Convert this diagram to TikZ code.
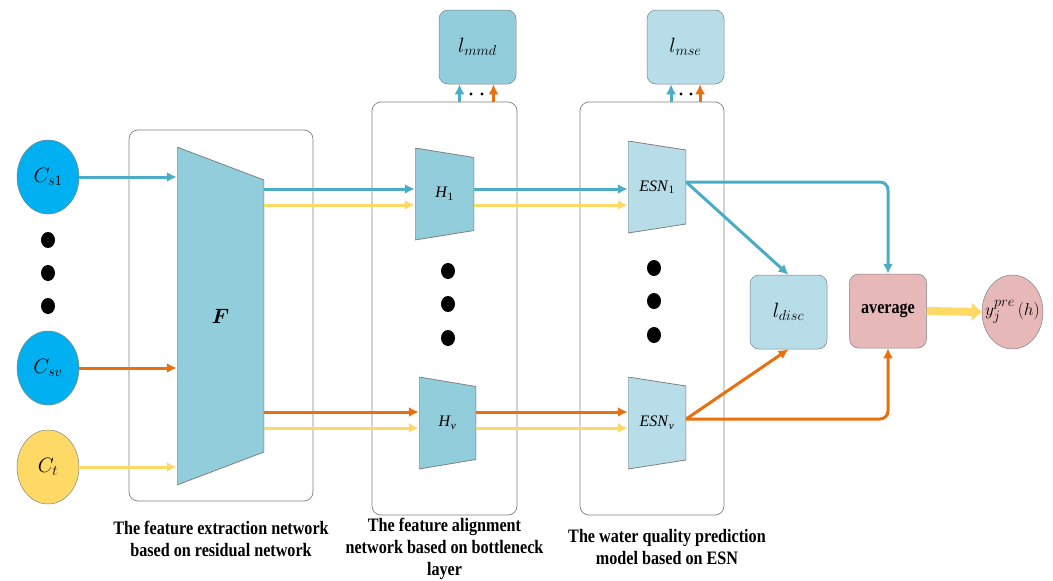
\documentclass[tikz,border=0pt]{standalone}
\usepackage{fontspec}
\usepackage{bm}
\setmainfont{Liberation Serif}
\newfontfamily\capfont[FakeStretch=0.85]{Liberation Serif}
\usetikzlibrary{positioning,arrows.meta,shapes.geometric}

\definecolor{wqcyan}{HTML}{00B0F0}
\definecolor{wqblue}{HTML}{4BACC6}
\definecolor{wqorange}{HTML}{E8700F}
\definecolor{wqyellow}{HTML}{FFD966}
\definecolor{wqteal}{HTML}{92CDDC}
\definecolor{wqpale}{HTML}{B7DDE8}
\definecolor{wqrose}{HTML}{E6B9B8}
\definecolor{wqedge}{HTML}{808080}

\tikzset{
	wq_base/.style={font=\fontsize{20}{24}\selectfont, inner sep=0pt},
	wq_input/.style={wq_base, draw=wqedge, line width=0.5pt, ellipse, minimum width=62, minimum height=74, fill=#1},
	wq_frame/.style={draw=wqedge, line width=0.7pt, rounded corners=9pt},
	wq_loss/.style={wq_base, draw=wqedge, line width=0.5pt, rounded corners=9pt, minimum width=77, minimum height=74, fill=#1},
	wq_trap/.style 2 args={wq_base, font=\fontsize{16}{19}\selectfont, draw=none,
		path picture={\filldraw[draw=wqedge, line width=0.8pt, fill=#2]
			(path picture bounding box.north west) -- ([yshift=-#1]path picture bounding box.north east)
			-- ([yshift=#1]path picture bounding box.south east) -- (path picture bounding box.south west) -- cycle;}},
	wq_caption/.style={font=\capfont\bfseries\fontsize{19}{22}\selectfont, align=center, inner sep=0pt},
	wq_line/.style={line width=3pt, draw=#1, -{Latex[length=10pt,width=10pt]}},
	wq_dot/.style={fill=black}
}

\begin{document}
\begin{tikzpicture}[x=1pt, y=-1pt]
	\useasboundingbox (0,0) rectangle (1053,581);

	% the three stages
	\node [wq_frame, minimum width=184, minimum height=371] (extract) at (221,315.5) {};
	\node [wq_frame, minimum width=145, minimum height=413] (align) at (444.5,308.5) {};
	\node [wq_frame, minimum width=144, minimum height=413] (predict) at (652,308.5) {};

	% inputs
	\node [wq_input=wqcyan] (cs1) at (48,177) {$C_{s1}$};
	\node [wq_input=wqcyan] (csv) at (48,368) {$C_{sv}$};
	\node [wq_input=wqyellow] (ct) at (48,467) {$C_{t}$};
	\foreach \y in {240,273,306}
		\fill [wq_dot] (48,\y) ellipse (7 and 8);

	% networks
	\node [wq_trap={33}{wqteal}, minimum width=87, minimum height=338, font=\fontsize{20}{24}\selectfont] (F) at (220.5,316) {$\bm{F}$};
	\node [wq_trap={9.5}{wqteal}, minimum width=59, minimum height=92] (H1) at (444.5,194) {\textit{H}\textsubscript{1}};
	\node [wq_trap={9.5}{wqteal}, minimum width=57, minimum height=92] (Hv) at (447.5,423) {\textit{H}\textsubscript{\textit{v}}};
	\node [wq_trap={9}{wqpale}, minimum width=58, minimum height=92] (ESN1) at (657,187) {\textit{ESN}\textsubscript{1}};
	\node [wq_trap={9}{wqpale}, minimum width=58, minimum height=92] (ESNv) at (657,423) {\textit{ESN}\textsubscript{\textit{v}}};
	\foreach \y in {271,304,338}
		\fill [wq_dot] (448,\y) ellipse (7 and 8);
	\foreach \y in {268,301,335}
		\fill [wq_dot] (654,\y) ellipse (7 and 8);

	% losses and output
	\node [wq_loss=wqteal] (mmd) at (477.5,47) {$l_{mmd}$};
	\node [wq_loss=wqpale] (mse) at (685.5,47) {$l_{mse}$};
	\node [wq_loss=wqpale] (disc) at (788.5,312) {$l_{disc}$};
	\node [wq_loss=wqrose, font=\capfont\bfseries\fontsize{19}{22}\selectfont] (avg) at (888,311) {average};
	\node [wq_input=wqrose, minimum width=61,
		label={[font=\fontsize{19}{22}\selectfont, inner sep=0pt]center:$y_j^{pre}\,(h)$}] (ypre) at (1012.5,312) {};

	% rows of the feature streams
	\coordinate (rowS) at (0,189);
	\coordinate (rowT) at (0,205);
	\coordinate (rowV) at (0,412);
	\coordinate (rowU) at (0,428);

	\draw [wq_line=wqblue] (cs1) -- (cs1 -| F.west);
	\draw [wq_line=wqorange] (csv) -- (csv -| F.west);
	\draw [wq_line=wqyellow] (ct) -- (ct -| F.west);

	\draw [wq_line=wqblue] (F.east |- rowS) -- (H1.west |- rowS);
	\draw [wq_line=wqyellow] (F.east |- rowT) -- (H1.west |- rowT);
	\draw [wq_line=wqorange] (F.east |- rowV) -- (Hv.west |- rowV);
	\draw [wq_line=wqyellow] (F.east |- rowU) -- (Hv.west |- rowU);

	\draw [wq_line=wqblue] (H1.east |- rowS) -- (ESN1.west |- rowS);
	\draw [wq_line=wqyellow] (H1.east |- rowT) -- (ESN1.west |- rowT);
	\draw [wq_line=wqorange] (Hv.east |- rowV) -- (ESNv.west |- rowV);
	\draw [wq_line=wqyellow] (Hv.east |- rowU) -- (ESNv.west |- rowU);

	% up to the losses
	\draw [wq_line=wqblue] ([xshift=-18]mmd.south |- align.north) -- ([xshift=-18]mmd.south);
	\draw [wq_line=wqorange] ([xshift=16]mmd.south |- align.north) -- ([xshift=16]mmd.south);
	\fill [wq_dot] (471,94) circle (1.6) (482,94) circle (1.6);
	\draw [wq_line=wqblue] ([xshift=-14.5]mse.south |- predict.north) -- ([xshift=-14.5]mse.south);
	\draw [wq_line=wqorange] ([xshift=14.5]mse.south |- predict.north) -- ([xshift=14.5]mse.south);
	\fill [wq_dot] (681,94) circle (1.6) (691,94) circle (1.6);

	% predictions to discrepancy and average
	\draw [wq_line=wqblue] ([yshift=5]ESN1.east) -- (disc.north);
	\draw [wq_line=wqblue, rounded corners=8pt] ([yshift=5]ESN1.east) -| (avg.north);
	\draw [wq_line=wqorange] ([yshift=4]ESNv.east) -- (disc.south);
	\draw [wq_line=wqorange, rounded corners=8pt] ([yshift=4]ESNv.east) -| (avg.south);
	\draw [line width=8pt, draw=wqyellow, -{Triangle[length=10pt,width=17pt]}] (avg.east) -- (ypre.west);

	% stage captions
	\node [wq_caption, below=20pt of extract] (capE) {The feature extraction network\\based on residual network};
	\node [wq_caption, below=3pt of align] (capA) {The feature alignment\\network based on bottleneck\\layer};
	\node [wq_caption, below=14pt of predict, xshift=15pt] (capP) {The water quality prediction\\model based on ESN};
\end{tikzpicture}
\end{document}
